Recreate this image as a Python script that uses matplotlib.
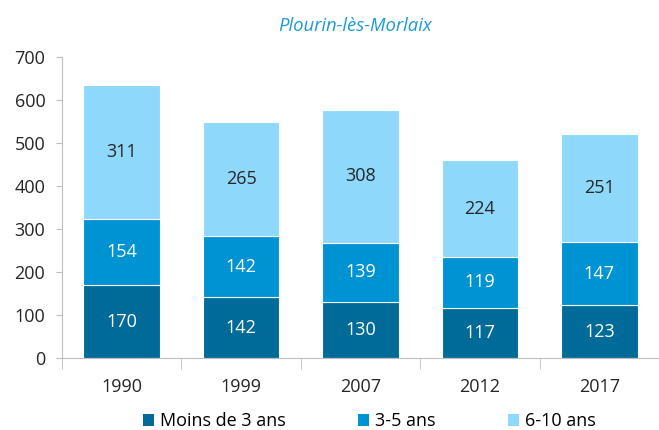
import numpy as np
from matplotlib import pyplot as plt
from matplotlib.patches import Patch

plt.rcParams['font.family'] = ['Open Sans', 'DejaVu Sans']

years = ["1990", "1999", "2007", "2012", "2017"]
moins3 = [170, 142, 130, 117, 123]
ans3_5 = [154, 142, 139, 119, 147]
ans6_10 = [311, 265, 308, 224, 251]

labels = ["Moins de 3 ans", "3-5 ans", "6-10 ans"]
colors = ["#006a99", "#0093d3", "#8dd8fb"]
text_colors = ["white", "white", "#262626"]

fig = plt.figure(figsize=(6.59, 4.30), dpi=100)
ax = fig.add_axes([0.094, 0.167, 0.906, 0.700])

x = np.arange(len(years))
bottom = np.zeros(len(years))
for vals, col, tc in zip([moins3, ans3_5, ans6_10], colors, text_colors):
    vals = np.array(vals)
    ax.bar(x, vals, 0.64, bottom=bottom, color=col, edgecolor="white", linewidth=0.8)
    for xi, b, v in zip(x, bottom, vals):
        ax.text(xi, b + v / 2, str(v), ha="center", va="center", color=tc, fontsize=13)
    bottom += vals

ax.set_xlim(-0.5, len(years) - 0.5)
ax.set_ylim(0, 700)
ax.set_yticks(range(0, 701, 100))
ax.tick_params(axis="y", labelsize=13, colors="#262626", length=4, color="#bfbfbf", pad=8)
ax.set_xticks(x)
ax.set_xticklabels(years, fontsize=13, color="#262626")
ax.tick_params(axis="x", length=0, pad=14)
ax.set_xticks(np.arange(-0.5, len(years)), minor=True)
ax.tick_params(axis="x", which="minor", length=8, color="#bfbfbf")
for s in ["top", "right"]:
    ax.spines[s].set_visible(False)
for s in ["left", "bottom"]:
    ax.spines[s].set_color("#bfbfbf")

fig.text(0.539, 0.94, "Plourin-lès-Morlaix", ha="center", va="center",
         fontsize=13.3, style="italic", color="#1b9ad6")

handles = [Patch(facecolor=c, label=l) for c, l in zip(colors, labels)]
fig.legend(handles=handles, loc="center", bbox_to_anchor=(0.56, 0.02), ncol=3,
           frameon=False, fontsize=13, handlelength=0.65, handleheight=0.65,
           handletextpad=0.3, columnspacing=4.0)

fig.savefig("out.png", dpi=100)
